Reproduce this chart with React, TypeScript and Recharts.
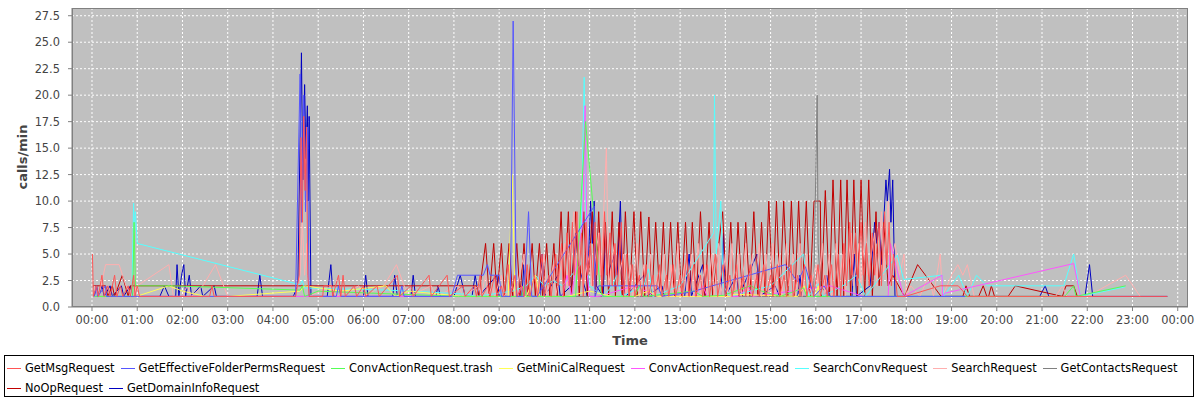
import React from 'react';
import { LineChart, Line, XAxis, YAxis, CartesianGrid } from 'recharts';

type Pt = [number, number];

// time in hours since 00:00, value in calls/min
const GET_MSG: Pt[] = [
  [0.01, 5], [0.03, 1], [0.1, 2], [0.14, 1], [0.22, 3], [0.27, 1], [0.35, 2], [0.4, 1], [0.5, 3], [0.55, 1],
  [0.63, 2], [0.68, 1], [0.8, 2], [0.85, 1], [0.92, 3], [0.95, 1], [1.0, 2], [1.05, 1], [2.6, 1], [2.65, 2],
  [2.7, 1], [4.5, 1], [4.58, 3], [4.62, 16], [4.65, 8], [4.68, 18], [4.71, 11], [4.74, 17], [4.77, 3], [4.8, 1],
  [5.1, 1], [5.12, 2], [5.3, 2], [5.32, 1], [5.45, 3], [5.5, 1], [5.55, 3], [5.6, 1], [5.8, 2], [5.85, 1],
  [6.0, 2], [6.05, 1], [6.3, 2], [6.35, 1], [6.75, 3], [6.8, 1], [7.05, 2], [7.1, 1], [7.45, 3], [7.5, 1],
  [7.85, 3], [7.9, 1], [8.2, 2], [8.25, 1], [8.45, 2], [8.5, 1], [8.58, 3], [8.62, 1], [8.75, 2], [8.8, 1],
  [8.9, 3], [8.95, 1], [9.05, 2], [9.1, 1], [9.2, 4], [9.25, 1], [9.35, 3], [9.4, 1], [9.5, 2], [9.55, 1],
  [9.62, 4], [9.68, 1], [9.78, 3], [9.85, 1], [9.95, 5], [10.0, 1], [10.1, 3], [10.15, 1], [10.25, 5], [10.3, 2],
  [10.38, 6], [10.42, 1], [10.5, 7], [10.55, 2], [10.62, 8], [10.66, 3], [10.72, 9], [10.76, 2], [10.82, 7], [10.86, 1],
  [10.92, 8], [10.96, 3], [11.02, 6], [11.07, 2], [11.12, 8], [11.16, 3], [11.22, 7], [11.27, 2], [11.33, 9], [11.38, 3],
  [11.45, 7], [11.5, 2], [11.56, 6], [11.62, 2], [11.7, 8], [11.75, 1], [11.82, 5], [11.87, 1], [11.95, 4], [12.0, 1],
  [12.1, 3], [12.15, 1], [12.25, 4], [12.3, 1], [12.4, 3], [12.45, 1], [12.55, 4], [12.6, 1], [12.7, 3], [12.75, 1],
  [12.85, 4], [12.9, 1], [13.0, 3], [13.05, 1], [13.15, 5], [13.2, 1], [13.3, 4], [13.35, 1], [13.45, 3], [13.5, 1],
  [13.6, 4], [13.65, 1], [13.78, 5], [13.83, 1], [13.95, 4], [14.0, 1], [14.1, 3], [14.15, 1], [14.25, 4], [14.3, 1],
  [14.4, 3], [14.45, 1], [14.55, 4], [14.6, 1], [14.7, 3], [14.75, 1], [14.85, 4], [14.9, 1], [15.0, 3], [15.05, 1],
  [15.15, 4], [15.2, 1], [15.3, 3], [15.35, 1], [15.45, 4], [15.5, 1], [15.6, 3], [15.65, 1], [15.75, 4], [15.8, 1],
  [15.9, 3], [15.95, 1], [16.05, 4], [16.1, 1], [16.2, 3], [16.25, 1], [16.35, 4], [16.4, 1], [16.5, 5], [16.55, 1],
  [16.62, 6], [16.68, 2], [16.75, 8], [16.8, 3], [16.88, 7], [16.92, 2], [17.0, 8], [17.05, 3], [17.12, 6], [17.18, 2],
  [17.25, 7], [17.3, 3], [17.4, 8], [17.45, 2], [17.52, 9], [17.57, 4], [17.62, 8], [17.67, 2], [17.72, 5], [17.8, 1],
  [17.98, 1], [18.75, 2], [19.15, 2], [19.35, 1], [23.77, 1],
];

const GET_EFFECTIVE_FOLDER_PERMS: Pt[] = [
  [0.05, 1], [0.1, 2], [0.12, 1], [0.3, 2], [0.32, 1], [1.0, 1], [4.5, 1], [4.6, 22], [4.63, 8], [4.68, 20],
  [4.72, 9], [4.76, 17], [4.8, 1], [5.4, 1], [5.45, 2], [5.5, 1], [6.8, 1], [6.85, 2], [6.9, 1], [7.95, 1],
  [8.08, 3], [8.65, 3], [8.74, 4], [8.8, 3], [9.0, 3], [9.05, 1], [9.25, 1], [9.31, 27], [9.38, 1], [9.55, 1],
  [9.65, 9], [9.72, 1], [9.84, 1], [11.1, 9.5], [11.12, 1], [11.2, 2], [12.5, 2], [12.6, 1], [13.23, 1.4], [15.33, 4],
  [15.59, 2.4], [15.77, 3.8], [15.96, 1], [16.18, 2], [16.32, 1], [19.3, 1],
];

const CONV_ACTION_TRASH: Pt[] = [
  [0.05, 1], [0.9, 1], [0.93, 8], [0.96, 2], [1.75, 2], [4.6, 1.6], [4.65, 2], [4.7, 1], [5.0, 1.5], [8.1, 1],
  [9.5, 1], [9.55, 2], [9.6, 1], [10.69, 1], [10.91, 17.5], [11.24, 1.5], [11.3, 1], [12.0, 1], [12.1, 2], [12.2, 1],
  [13.3, 1.5], [13.5, 1], [13.96, 1.1], [14.56, 2], [14.8, 1.5], [15.22, 1], [15.73, 1.8], [15.8, 1], [21.5, 1], [21.7, 2],
  [21.75, 1], [22.85, 2],
];

const GET_MINI_CAL: Pt[] = [
  [0.1, 1], [0.98, 1], [1.7, 2], [2.0, 1.5], [2.5, 1], [3.0, 1], [4.6, 1.5], [4.7, 2], [5.5, 1.5], [6.5, 2],
  [6.7, 1], [7.0, 1.5], [8.2, 1], [9.2, 1], [9.29, 12.5], [9.35, 1], [9.6, 1], [9.8, 3], [9.9, 1], [10.5, 1],
  [11.0, 1.5], [11.5, 1], [12.0, 1], [12.3, 1.5], [12.5, 1], [14.1, 1], [14.2, 1.2], [15.6, 1], [15.75, 2], [15.8, 1],
  [16.0, 1], [16.05, 2], [16.1, 1],
];

const CONV_ACTION_READ: Pt[] = [
  [0.05, 1], [9.4, 1], [9.5, 2], [9.6, 1], [10.4, 1], [10.5, 3], [10.6, 1], [10.85, 8], [10.9, 19], [10.95, 3],
  [11.0, 1], [11.2, 1], [12.0, 2], [12.5, 1], [13.3, 1], [13.5, 2], [13.6, 1], [14.3, 1], [14.5, 2], [14.6, 1],
  [16.32, 2], [17.05, 1], [17.6, 1], [17.65, 6], [17.94, 1], [18.79, 3], [18.8, 1], [18.85, 1.3], [21.7, 4.1], [21.85, 1],
];

const SEARCH_CONV: Pt[] = [
  [0.05, 1], [0.5, 1], [0.88, 1], [0.92, 9.8], [0.94, 7], [0.96, 9], [1.0, 6], [4.6, 2.1], [4.65, 2.5], [4.7, 1.8],
  [5.5, 1.7], [6.5, 1.6], [7.5, 1.4], [8.3, 1.2], [8.5, 1], [9.3, 1.5], [9.6, 2], [9.8, 3], [10.0, 2], [10.2, 2.5],
  [10.4, 2], [10.6, 3], [10.8, 4], [10.88, 21.7], [10.93, 5], [11.0, 2], [11.3, 1], [11.5, 2], [11.6, 3], [11.7, 1],
  [12.2, 2], [12.3, 3.6], [12.4, 1], [13.0, 2], [13.74, 7], [13.76, 20], [13.8, 5], [13.9, 10], [13.95, 2], [14.1, 1],
  [15.0, 2], [15.73, 5], [15.84, 1], [16.06, 2.2], [16.15, 1], [16.6, 2], [16.9, 3], [17.1, 1], [17.8, 4.9], [17.94, 2.6],
  [18.79, 3], [18.82, 1], [19.16, 3], [19.35, 1], [19.55, 3], [19.79, 2], [21.48, 2], [21.7, 5], [21.85, 1], [22.84, 1.9],
];

const SEARCH: Pt[] = [
  [0.05, 2], [0.15, 1], [0.3, 4], [0.6, 4], [0.75, 2], [0.9, 1], [1.0, 2], [1.7, 4], [1.8, 1], [2.0, 1],
  [2.1, 2], [2.2, 1], [2.45, 2], [2.73, 4], [3.0, 1], [4.5, 1], [4.6, 3], [4.65, 8], [4.7, 3], [4.75, 6],
  [4.8, 1], [5.3, 2], [5.4, 1], [5.9, 2], [6.0, 1], [6.45, 2], [6.73, 4], [6.9, 2], [7.0, 1], [7.5, 2],
  [7.6, 1], [8.1, 2], [8.2, 1], [8.55, 2], [8.6, 1], [8.7, 3], [8.75, 1], [8.85, 2], [8.9, 1], [9.05, 3],
  [9.1, 1], [9.3, 2], [9.35, 1], [9.55, 5], [9.6, 1], [9.8, 3], [9.85, 1], [10.0, 5], [10.05, 1], [10.2, 4],
  [10.25, 1], [10.45, 6], [10.5, 2], [10.65, 9], [10.7, 3], [10.8, 6], [10.85, 2], [11.0, 5], [11.05, 2], [11.2, 7],
  [11.25, 3], [11.37, 15], [11.42, 2], [11.55, 6], [11.6, 2], [11.75, 5], [11.8, 1], [11.9, 4], [11.95, 1], [12.05, 6],
  [12.1, 1], [12.2, 4], [12.25, 1], [12.35, 5], [12.4, 1], [12.5, 3], [12.55, 1], [12.65, 5], [12.7, 1], [12.8, 4],
  [12.85, 1], [12.95, 6], [13.0, 1], [13.1, 4], [13.15, 1], [13.25, 5], [13.3, 1], [13.4, 6], [13.45, 1], [13.55, 4],
  [13.6, 1], [13.7, 5], [13.75, 1], [13.85, 6], [13.9, 1], [14.0, 5], [14.05, 1], [14.15, 6], [14.2, 1], [14.3, 5],
  [14.35, 1], [14.45, 6], [14.5, 1], [14.6, 5], [14.65, 2], [14.75, 6], [14.8, 1], [14.9, 5], [14.95, 1], [15.05, 6],
  [15.1, 1], [15.2, 5], [15.25, 1], [15.35, 6], [15.4, 2], [15.5, 5], [15.55, 1], [15.65, 6], [15.7, 1], [15.8, 5],
  [15.85, 1], [16.0, 4], [16.05, 2], [16.15, 6], [16.2, 1], [16.3, 5], [16.35, 1], [16.45, 6], [16.5, 2], [16.6, 5],
  [16.65, 1], [16.78, 7], [16.83, 2], [16.95, 6], [17.0, 2], [17.1, 8], [17.15, 3], [17.3, 7], [17.35, 2], [17.45, 9],
  [17.5, 3], [17.6, 10], [17.65, 4], [17.75, 6], [17.85, 3], [17.95, 5], [18.0, 1], [18.1, 2], [18.3, 1], [18.5, 3],
  [18.6, 1], [18.75, 5], [18.8, 1], [19.0, 3], [19.14, 4], [19.25, 3], [19.35, 4], [19.5, 1], [21.3, 1], [21.45, 2],
  [21.55, 1], [22.0, 1], [22.85, 3], [23.17, 1],
];

const GET_CONTACTS: Pt[] = [
  [0.05, 1], [8.0, 1], [12.0, 1], [15.95, 1], [16.03, 20], [16.05, 6], [16.1, 2], [16.3, 1], [18.0, 1],
];

const NO_OP: Pt[] = [
  [0.02, 2], [0.3, 2], [0.35, 1], [0.45, 2], [0.5, 1], [0.67, 3], [0.8, 1], [0.85, 2], [8.5, 2], [8.55, 1],
  [8.7, 6], [8.78, 1], [8.88, 6], [8.95, 1], [9.05, 6], [9.12, 1], [9.22, 6], [9.3, 1], [9.39, 6], [9.46, 1],
  [9.55, 6], [9.63, 1], [9.73, 6], [9.8, 1], [9.89, 6], [9.96, 1], [10.05, 6], [10.12, 1], [10.21, 6], [10.28, 1],
  [10.37, 9], [10.44, 1], [10.53, 9], [10.6, 1], [10.69, 9], [10.77, 1], [10.87, 9], [10.95, 1], [11.06, 9], [11.13, 1],
  [11.2, 9], [11.28, 1], [11.35, 8], [11.42, 1], [11.5, 9], [11.57, 1], [11.65, 8], [11.72, 1], [11.79, 9], [11.88, 1],
  [11.98, 9], [12.05, 1], [12.13, 9], [12.22, 1], [12.31, 8.5], [12.38, 1], [12.46, 8], [12.55, 1], [12.63, 8], [12.7, 1],
  [12.79, 8], [12.87, 1], [12.95, 8], [13.03, 1], [13.12, 8], [13.2, 1], [13.27, 8], [13.36, 1], [13.45, 9], [13.55, 1],
  [13.64, 8], [13.72, 1], [13.94, 9], [14.03, 1], [14.12, 8], [14.2, 1], [14.28, 8], [14.37, 1], [14.45, 8], [14.54, 1],
  [14.63, 9], [14.72, 1], [14.8, 8], [14.88, 1], [14.96, 10], [15.05, 1], [15.13, 10], [15.21, 1], [15.29, 10], [15.38, 1],
  [15.46, 10], [15.54, 1], [15.62, 10], [15.7, 1], [15.79, 10], [15.87, 1], [15.96, 10], [16.1, 10], [16.12, 1], [16.21, 11],
  [16.3, 1], [16.38, 12], [16.47, 1], [16.55, 12], [16.62, 1], [16.69, 12], [16.77, 1], [16.84, 12], [16.92, 1], [17.0, 12],
  [17.08, 1], [17.17, 12], [17.25, 1], [17.33, 9], [17.4, 2], [17.5, 8], [17.6, 2], [17.7, 3], [17.96, 1], [18.25, 4],
  [18.77, 1], [19.25, 1], [19.32, 2], [19.4, 1], [19.6, 1], [19.7, 2], [19.78, 1], [19.82, 1], [19.88, 2], [19.95, 1],
  [20.25, 1], [20.41, 2], [21.45, 1], [21.53, 2], [21.7, 2], [21.78, 1],
];

const GET_DOMAIN_INFO: Pt[] = [
  [0.05, 1], [0.1, 2], [0.15, 1], [0.22, 2], [0.27, 1], [0.4, 2], [0.45, 1], [0.65, 2], [0.7, 1], [0.85, 2],
  [0.9, 1], [1.5, 1], [1.6, 2], [1.7, 1], [1.85, 1], [1.88, 4], [1.92, 1], [1.98, 3], [2.03, 4], [2.07, 1],
  [2.15, 3], [2.2, 1], [2.4, 2], [2.45, 1], [2.7, 2], [2.75, 1], [3.65, 1], [3.71, 3], [3.77, 1], [4.45, 1],
  [4.55, 2], [4.63, 24], [4.66, 12], [4.7, 21], [4.73, 14], [4.76, 19], [4.78, 10], [4.8, 18], [4.84, 1], [5.2, 1],
  [5.28, 4], [5.33, 1], [6.0, 1], [6.05, 3], [6.1, 1], [6.65, 1], [6.69, 3], [6.75, 1], [7.05, 1], [7.1, 3],
  [7.15, 1], [7.6, 1], [7.65, 2], [7.7, 1], [8.0, 1], [8.14, 3], [8.25, 1], [8.4, 1], [8.47, 3], [8.55, 1],
  [8.95, 3], [9.0, 1], [9.5, 1], [9.55, 4], [9.6, 1], [9.9, 1], [9.95, 5], [10.0, 1], [10.3, 3], [10.35, 1],
  [10.6, 2], [10.7, 7], [10.75, 4], [10.95, 1], [11.02, 10], [11.06, 6], [11.1, 10], [11.15, 2], [11.3, 1], [11.35, 7],
  [11.4, 3], [11.55, 5], [11.6, 2], [11.68, 10], [11.72, 3], [11.8, 1], [12.2, 3], [12.25, 1], [12.6, 2], [12.65, 1],
  [13.1, 1], [13.2, 5], [13.25, 1], [13.5, 4], [13.55, 1], [13.9, 1], [13.96, 7], [14.0, 1], [14.25, 3], [14.3, 1],
  [14.7, 5], [14.75, 1], [15.1, 2], [15.2, 1], [15.6, 1], [15.65, 3], [15.7, 1], [16.2, 1], [16.25, 3], [16.3, 1],
  [16.8, 1], [16.85, 5], [16.9, 1], [17.2, 2], [17.3, 8], [17.35, 6], [17.4, 8], [17.45, 4], [17.55, 12], [17.58, 10],
  [17.63, 13], [17.66, 8], [17.7, 12], [17.75, 1], [18.0, 1], [20.95, 1], [21.07, 2], [21.15, 1], [21.95, 1], [22.05, 4],
  [22.12, 1], [23.77, 1],
];

const SERIES_NAMES = [
  'GetMsgRequest', 'GetEffectiveFolderPermsRequest', 'ConvActionRequest.trash', 'GetMiniCalRequest',
  'ConvActionRequest.read', 'SearchConvRequest', 'SearchRequest', 'GetContactsRequest', 'NoOpRequest',
  'GetDomainInfoRequest',
];
const SERIES_POINTS = [
  GET_MSG, GET_EFFECTIVE_FOLDER_PERMS, CONV_ACTION_TRASH, GET_MINI_CAL, CONV_ACTION_READ,
  SEARCH_CONV, SEARCH, GET_CONTACTS, NO_OP, GET_DOMAIN_INFO,
];
const SERIES_COLORS = [
  '#FF5555', '#5555FF', '#55FF55', '#FFFF55', '#FF55FF', '#55FFFF', '#FFAFAF', '#808080', '#C00000', '#0000C0',
];

const HOUR_TICKS = [0, 1, 2, 3, 4, 5, 6, 7, 8, 9, 10, 11, 12, 13, 14, 15, 16, 17, 18, 19, 20, 21, 22, 23, 24];
const HOUR_LABELS = [
  '00:00', '01:00', '02:00', '03:00', '04:00', '05:00', '06:00', '07:00', '08:00', '09:00', '10:00', '11:00',
  '12:00', '13:00', '14:00', '15:00', '16:00', '17:00', '18:00', '19:00', '20:00', '21:00', '22:00', '23:00', '00:00',
];
const VALUE_TICKS = [0, 2.5, 5, 7.5, 10, 12.5, 15, 17.5, 20, 22.5, 25, 27.5];

const FONT = '"DejaVu Sans", Verdana, sans-serif';
const AXIS_TEXT = '#444444';

const series = SERIES_NAMES.map((name, i) => ({
  name,
  color: SERIES_COLORS[i],
  rows: SERIES_POINTS[i].map(([t, v]) => ({ t, v })),
}));

const YLabel = () => (
  <text
    x={22}
    y={157}
    transform="rotate(-90 22 157)"
    textAnchor="middle"
    dominantBaseline="central"
    fontFamily={FONT}
    fontSize={13}
    fontWeight="bold"
    fill={AXIS_TEXT}
  >
    calls/min
  </text>
);

const XLabel = () => (
  <text
    x={630}
    y={340}
    textAnchor="middle"
    dominantBaseline="central"
    fontFamily={FONT}
    fontSize={13}
    fontWeight="bold"
    fill={AXIS_TEXT}
  >
    Time
  </text>
);

export default function App() {
  return (
    <div
      style={{
        position: 'absolute',
        left: 0,
        top: 0,
        width: 1200,
        height: 400,
        background: '#fff',
        fontFamily: FONT,
      }}
    >
      <LineChart width={1200} height={350} margin={{ top: 8, right: 12, bottom: 0, left: 0 }}>
        <CartesianGrid fill="#C0C0C0" fillOpacity={1} stroke="#FFFFFF" strokeDasharray="2 2" />
        <XAxis
          type="number"
          dataKey="t"
          domain={[-0.442, 24.227]}
          ticks={HOUR_TICKS}
          interval={0}
          allowDataOverflow
          tickFormatter={(h: number) => HOUR_LABELS[HOUR_TICKS.indexOf(h)]}
          height={43}
          tickSize={4}
          tickMargin={5}
          stroke="#808080"
          tick={{ fill: AXIS_TEXT, fontSize: 11.4, fontFamily: FONT }}
          label={<XLabel />}
        />
        <YAxis
          type="number"
          domain={[0, 28.23]}
          ticks={VALUE_TICKS}
          interval={0}
          allowDataOverflow
          tickFormatter={(v: number) => v.toFixed(1)}
          width={72}
          tickSize={4}
          tickMargin={8}
          stroke="#808080"
          tick={{ fill: AXIS_TEXT, fontSize: 11.4, fontFamily: FONT }}
          label={<YLabel />}
        />
        {[...series].reverse().map((s) => (
          <Line
            key={s.name}
            name={s.name}
            data={s.rows}
            dataKey="v"
            type="linear"
            stroke={s.color}
            strokeWidth={1}
            dot={false}
            activeDot={false}
            isAnimationActive={false}
          />
        ))}
      </LineChart>
      <div
        style={{
          position: 'absolute',
          left: 72,
          top: 8,
          width: 1116,
          height: 299,
          boxSizing: 'border-box',
          border: '1px solid #808080',
          pointerEvents: 'none',
        }}
      />
      <div
        style={{
          position: 'absolute',
          left: 4,
          top: 355,
          width: 1190,
          height: 42,
          boxSizing: 'border-box',
          border: '1px solid #000',
          padding: '2px 0 0 2px',
          display: 'flex',
          flexWrap: 'wrap',
          alignContent: 'flex-start',
          fontSize: 11.4,
          color: '#000',
        }}
      >
        {series.map((s) => (
          <div key={s.name} style={{ display: 'flex', alignItems: 'center', height: 20, marginRight: 6 }}>
            <span style={{ display: 'inline-block', width: 14, height: 1, background: s.color, marginRight: 4 }} />
            <span style={{ whiteSpace: 'nowrap' }}>{s.name}</span>
          </div>
        ))}
      </div>
    </div>
  );
}
